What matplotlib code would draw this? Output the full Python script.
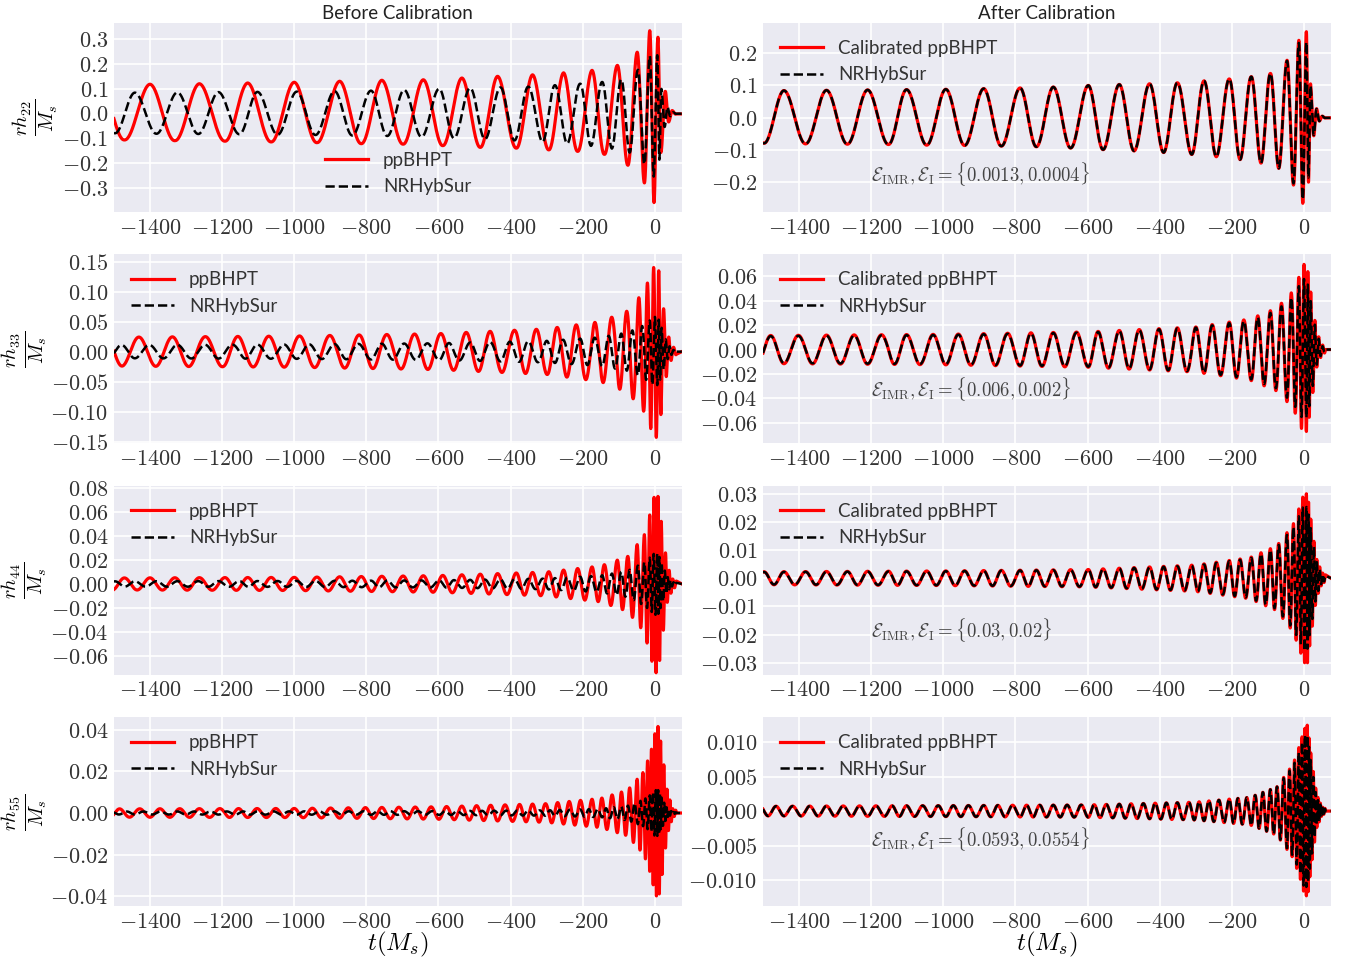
import numpy as np
import matplotlib.pyplot as plt
from matplotlib.ticker import FuncFormatter, MultipleLocator

# (2,2) mode extrema: time and value of every peak/trough.
# Each extremum is half a cycle, so these also carry the orbital phase.
pp_ext_t = [-1537, -1471, -1400, -1331, -1263, -1192, -1129, -1064, -1000, -937,
            -874, -814, -757, -698, -642, -588, -535, -484, -436, -384,
            -339, -294, -253, -214, -174, -140, -104, -75, -49, -29,
            -14, -2, 9, 18, 30, 40, 50, 60]
pp_ext_h = [0.115, -0.107, 0.118, -0.11, 0.12, -0.112, 0.123, -0.115, 0.126, -0.118,
            0.13, -0.122, 0.134, -0.124, 0.136, -0.13, 0.143, -0.137, 0.15, -0.14,
            0.156, -0.147, 0.164, -0.153, 0.174, -0.165, 0.194, -0.209, 0.247, -0.28,
            0.334, -0.36, 0.307, -0.15, 0.087, -0.03, 0.01, -0.002]

nr_ext_t = [-1553, -1497, -1442, -1382, -1324, -1266, -1210, -1152, -1102, -1046,
            -993, -941, -888, -839, -787, -742, -695, -647, -598, -557,
            -512, -471, -428, -389, -351, -311, -277, -243, -207, -177,
            -146, -119, -93, -70, -47, -29, -14, -3, 7, 13,
            19, 28, 36, 44, 52, 60]
nr_ext_h = [0.084, -0.08, 0.084, -0.082, 0.085, -0.083, 0.086, -0.084, 0.087, -0.086,
            0.088, -0.087, 0.09, -0.089, 0.092, -0.091, 0.095, -0.095, 0.1, -0.1,
            0.103, -0.104, 0.105, -0.109, 0.108, -0.115, 0.114, -0.122, 0.12, -0.131,
            0.127, -0.142, 0.137, -0.158, 0.176, -0.205, 0.232, -0.255, 0.235, -0.186,
            0.095, -0.053, 0.025, -0.01, 0.004, -0.001]
cal_ext_h = [0.084, -0.08, 0.084, -0.082, 0.085, -0.083, 0.086, -0.084, 0.087, -0.086,
             0.088, -0.087, 0.09, -0.089, 0.092, -0.091, 0.095, -0.095, 0.1, -0.1,
             0.103, -0.104, 0.105, -0.109, 0.108, -0.115, 0.114, -0.122, 0.12, -0.131,
             0.127, -0.142, 0.137, -0.158, 0.178, -0.21, 0.24, -0.267, 0.267, -0.2,
             0.1, -0.055, 0.026, -0.01, 0.004, -0.001]

# envelope readings for the higher modes
env_t = [-1500, -1000, -600, -300, -150, -75, -30, -10, 0, 10, 20, 35, 50, 75]
pp33_amp = [0.024, 0.026, 0.03, 0.038, 0.05, 0.068, 0.1, 0.13, 0.145, 0.14, 0.09, 0.03, 0.008, 0]
nr33_amp = [0.011, 0.012, 0.014, 0.018, 0.024, 0.032, 0.044, 0.054, 0.058, 0.055, 0.038, 0.013, 0.003, 0]
cal33_amp = [0.0115, 0.0125, 0.0145, 0.0185, 0.025, 0.034, 0.048, 0.062, 0.07, 0.066, 0.045, 0.015, 0.004, 0]
pp44_amp = [0.005, 0.0055, 0.007, 0.01, 0.015, 0.023, 0.04, 0.062, 0.075, 0.073, 0.047, 0.015, 0.004, 0]
nr44_amp = [0.0022, 0.0025, 0.003, 0.0045, 0.007, 0.011, 0.018, 0.023, 0.026, 0.025, 0.017, 0.006, 0.0015, 0]
cal44_amp = [0.0023, 0.0026, 0.0031, 0.0047, 0.0073, 0.0115, 0.019, 0.026, 0.03, 0.03, 0.02, 0.007, 0.002, 0]
pp55_amp = [0.002, 0.0022, 0.003, 0.0045, 0.007, 0.011, 0.02, 0.03, 0.038, 0.042, 0.03, 0.01, 0.002, 0]
nr55_amp = [0.0007, 0.0008, 0.0009, 0.0013, 0.002, 0.0035, 0.0065, 0.009, 0.011, 0.011, 0.007, 0.002, 0.0005, 0]
cal55_amp = [0.0007, 0.0008, 0.0009, 0.0013, 0.002, 0.0035, 0.0068, 0.0098, 0.0118, 0.0125, 0.008, 0.0025, 0.0006, 0]

# phase offset of each higher mode relative to m/2 times the (2,2) phase
pp_offsets = {3: -1.1, 4: 0.0, 5: 0.0}
nr_offsets = {3: 0.0, 4: 0.0, 5: 0.0}

modes = [2, 3, 4, 5]
errors = ['0.0013, 0.0004', '0.006, 0.002', '0.03, 0.02', '0.0593, 0.0554']
ylim_left = [(-0.398, 0.365), (-0.153, 0.162), (-0.076, 0.082), (-0.0448, 0.046)]
ylim_right = [(-0.294, 0.294), (-0.077, 0.078), (-0.0343, 0.0328), (-0.0138, 0.0136)]
ystep_left = [0.1, 0.05, 0.02, 0.02]
ystep_right = [0.1, 0.02, 0.01, 0.005]
decimals_left = [1, 2, 2, 2]
decimals_right = [1, 2, 2, 3]
err_ypos = [0.16, 0.25, 0.20, 0.32]

t = np.linspace(-1500, 75, 15751)


def phase22(ext_t, ext_h):
    start = 0.0 if ext_h[0] > 0 else np.pi
    return np.interp(t, ext_t, start + np.pi * np.arange(len(ext_t)))


def wave(ext_t, ext_h, m, amp=None, off=0.0):
    ph = phase22(ext_t, ext_h)
    if m == 2:
        return np.interp(t, ext_t, np.abs(ext_h)) * np.cos(ph)
    return np.interp(t, env_t, amp) * np.cos(m / 2 * ph + off)


pp_amp = {3: pp33_amp, 4: pp44_amp, 5: pp55_amp}
nr_amp = {3: nr33_amp, 4: nr44_amp, 5: nr55_amp}
cal_amp = {3: cal33_amp, 4: cal44_amp, 5: cal55_amp}

plt.rcParams['mathtext.fontset'] = 'cm'
plt.rcParams['font.family'] = ['Lato', 'DejaVu Sans']
plt.rcParams['axes.facecolor'] = '#EAEAF2'
plt.rcParams['axes.edgecolor'] = 'white'
plt.rcParams['axes.axisbelow'] = True

fig, axes = plt.subplots(4, 2, figsize=(13.56, 9.61), dpi=100)
fig.subplots_adjust(left=0.084, right=0.9815, top=0.976, bottom=0.057,
                    hspace=0.225, wspace=0.143)

for i, m in enumerate(modes):
    left, right = axes[i]

    if m == 2:
        h_pp = wave(pp_ext_t, pp_ext_h, 2)
        h_nr = wave(nr_ext_t, nr_ext_h, 2)
        h_cal = wave(nr_ext_t, cal_ext_h, 2)
    else:
        h_pp = wave(pp_ext_t, pp_ext_h, m, pp_amp[m], pp_offsets[m])
        h_nr = wave(nr_ext_t, nr_ext_h, m, nr_amp[m], nr_offsets[m])
        h_cal = wave(nr_ext_t, nr_ext_h, m, cal_amp[m], nr_offsets[m])

    left.plot(t, h_pp, color='red', lw=2.3, label='ppBHPT')
    left.plot(t, h_nr, color='black', lw=1.8, ls='--', label='NRHybSur')
    right.plot(t, h_cal, color='red', lw=2.3, label='Calibrated ppBHPT')
    right.plot(t, h_nr, color='black', lw=1.8, ls='--', label='NRHybSur')

    right.text(0.19, err_ypos[i],
               r'$\mathcal{E}_{\rm IMR}, \mathcal{E}_{\rm I} = \{' + errors[i] + r'\}$',
               transform=right.transAxes, fontsize=13.5, color='#444444')

    left.set_ylabel(r'$\frac{rh_{%d%d}}{M_s}$' % (m, m), fontsize=20.5, labelpad=1)

    panels = ((left, ylim_left[i], ystep_left[i], decimals_left[i]),
              (right, ylim_right[i], ystep_right[i], decimals_right[i]))
    for ax, lim, step, d in panels:
        ax.set_xlim(-1500, 75)
        ax.set_ylim(*lim)
        ax.xaxis.set_major_locator(MultipleLocator(200))
        ax.yaxis.set_major_locator(MultipleLocator(step))
        ax.xaxis.set_major_formatter(FuncFormatter(lambda v, p: r'$%d$' % round(v)))
        ax.yaxis.set_major_formatter(
            FuncFormatter(lambda v, p, d=d: r'$%.*f$' % (d, round(v, d) + 0.0)))
        ax.grid(True, color='white', lw=1.2)
        ax.tick_params(length=0, labelsize=16, labelcolor='#333333', pad=4)
        for s in ax.spines.values():
            s.set_visible(False)
        loc = 'lower center' if (ax is left and m == 2) else 'upper left'
        ax.legend(loc=loc, frameon=False, fontsize=13.5, handlelength=2.3,
                  labelcolor='#333333')

axes[0, 0].set_title('Before Calibration', fontsize=13.5, color='#222222', pad=3)
axes[0, 1].set_title('After Calibration', fontsize=13.5, color='#222222', pad=3)
axes[3, 0].set_xlabel(r'$t(M_s)$', fontsize=18, labelpad=-1)
axes[3, 1].set_xlabel(r'$t(M_s)$', fontsize=18, labelpad=-1)

fig.savefig('out.png', dpi=100)
